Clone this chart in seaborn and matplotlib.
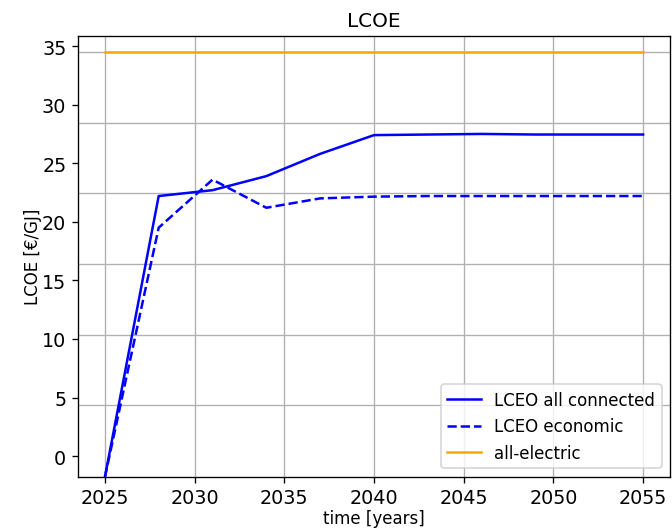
import numpy as np
import pandas as pd
import seaborn as sns
import matplotlib.pyplot as plt

years = [2025, 2028, 2031, 2034, 2037, 2040, 2043, 2046, 2049, 2052, 2055]
lceo_all_connected = [-1.8, 22.2, 22.7, 23.9, 25.8, 27.4, 27.45, 27.5, 27.45, 27.45, 27.45]
lceo_economic = [-1.8, 19.5, 23.6, 21.2, 22.0, 22.15, 22.2, 22.2, 22.2, 22.2, 22.2]
all_electric = [34.5] * len(years)

# horizontal grid positions seen in the picture (not on the tick values)
grid_y = [34.5, 28.47, 22.44, 16.41, 10.38, 4.35]

df = pd.DataFrame({'year': years, 'connected': lceo_all_connected,
                   'economic': lceo_economic, 'electric': all_electric})

fig, ax = plt.subplots(figsize=(5.6, 4.4083), dpi=120)
fig.subplots_adjust(left=0.116, right=0.997, bottom=0.097, top=0.931)

sns.lineplot(data=df, x='year', y='connected', color='blue', label='LCEO all connected', ax=ax)
sns.lineplot(data=df, x='year', y='economic', color='blue', linestyle='--', label='LCEO economic', ax=ax)
sns.lineplot(data=df, x='year', y='electric', color='orange', label='all-electric', ax=ax)

ax.set_ylim(-1.75, 35.9)
ax.set_yticks(np.arange(0, 36, 5))
ax.set_yticks(grid_y, minor=True)
ax.tick_params(axis='y', which='minor', length=0)
ax.tick_params(axis='both', which='major', labelsize=11.5)
ax.xaxis.grid(True)
ax.yaxis.grid(True, which='minor')
ax.yaxis.grid(False, which='major')

ax.set_title('LCOE')
ax.set_xlabel('time [years]', labelpad=1)
ax.set_ylabel('LCOE [€/GJ]', labelpad=0)
ax.legend(loc='lower right')

plt.savefig('out.png')
